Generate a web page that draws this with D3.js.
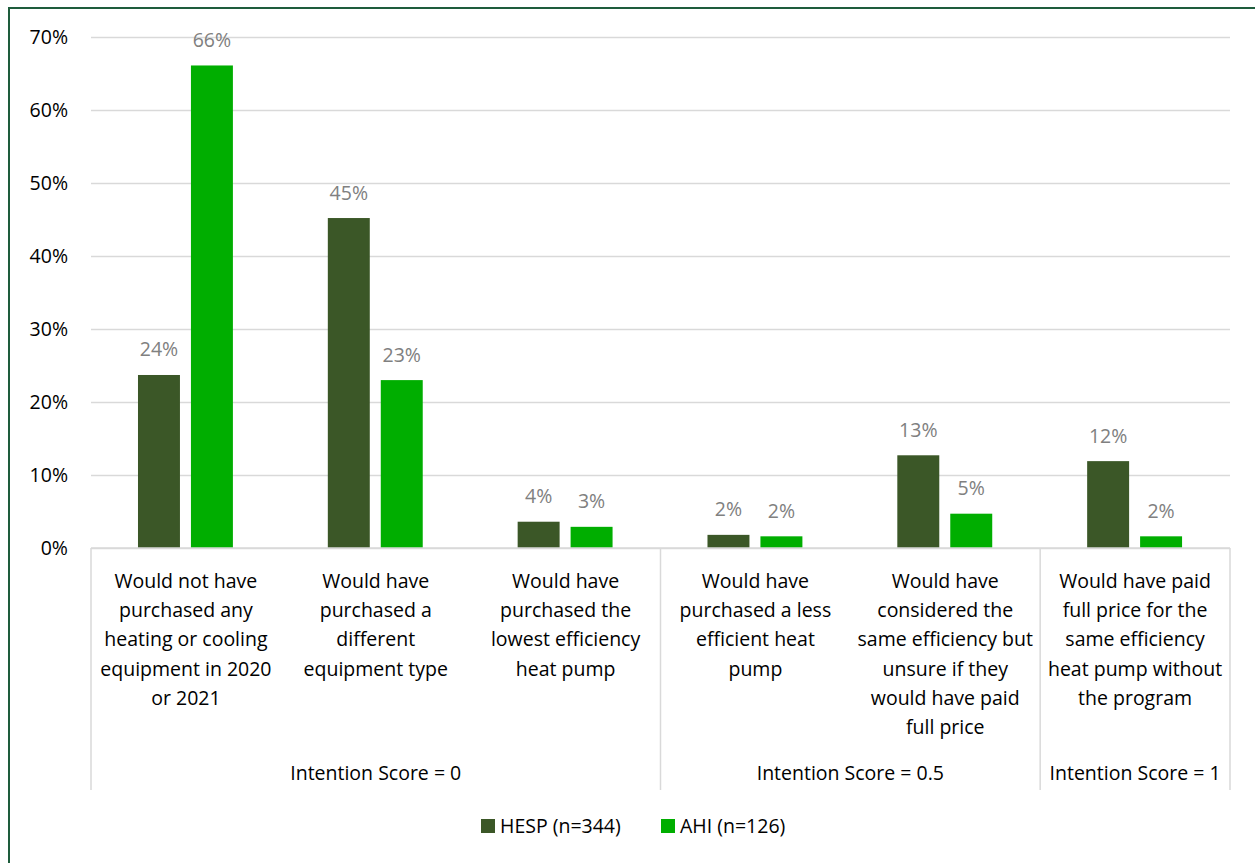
<!DOCTYPE html>
<html>
<head>
<meta charset="utf-8">
<script src="https://cdn.jsdelivr.net/npm/d3@7/dist/d3.min.js"></script>
<style>
  html, body { margin: 0; padding: 0; background: #fff; }
  svg { display: block; font-family: "Open Sans", "Liberation Sans", sans-serif; }
</style>
</head>
<body>
<svg id="chart" width="1255" height="863"></svg>
<script>
// Category labels, one array of wrapped lines per category
const categories = [
  ["Would not have", "purchased any", "heating or cooling", "equipment in 2020", "or 2021"],
  ["Would have", "purchased a", "different", "equipment type"],
  ["Would have", "purchased the", "lowest efficiency", "heat pump"],
  ["Would have", "purchased a less", "efficient heat", "pump"],
  ["Would have", "considered the", "same efficiency but", "unsure if they", "would have paid", "full price"],
  ["Would have paid", "full price for the", "same efficiency", "heat pump without", "the program"]
];

const seriesNames = ["HESP (n=344)", "AHI (n=126)"];
const seriesColors = ["#3b5727", "#00ae00"];

// Share of respondents per category
const hespValues = [0.237, 0.452, 0.036, 0.018, 0.127, 0.119];
const ahiValues  = [0.661, 0.230, 0.029, 0.016, 0.047, 0.016];

// Intention score groups spanning consecutive categories
const groupLabels = ["Intention Score = 0", "Intention Score = 0.5", "Intention Score = 1"];
const groupSizes = [3, 2, 1];

const yTicks = [0, 0.1, 0.2, 0.3, 0.4, 0.5, 0.6, 0.7];

const svg = d3.select("#chart");

// Outer frame
svg.append("rect")
  .attr("x", 9).attr("y", 8)
  .attr("width", 1300).attr("height", 900)
  .attr("fill", "none")
  .attr("stroke", "#1e5c3c")
  .attr("stroke-width", 2);

const plotLeft = 91, plotRight = 1230, plotTop = 37, plotBottom = 548;

const x0 = d3.scaleBand()
  .domain(d3.range(categories.length))
  .range([plotLeft, plotRight])
  .paddingInner(0).paddingOuter(0);

const bw = x0.bandwidth();
const x1 = d3.scaleBand()
  .domain(d3.range(seriesNames.length))
  .range([bw * 0.2475, bw * 0.7475])
  .paddingInner(0.2075).paddingOuter(0);

const y = d3.scaleLinear().domain([0, 0.7]).range([plotBottom, plotTop]);

// Gridlines and y axis labels
const yAxis = d3.axisLeft(y)
  .tickValues(yTicks)
  .tickFormat(d3.format(".0%"))
  .tickSize(-(plotRight - plotLeft))
  .tickPadding(23);

const gy = svg.append("g")
  .attr("transform", `translate(${plotLeft},0)`)
  .call(yAxis);
gy.select(".domain").remove();
gy.selectAll(".tick line").attr("stroke", "#d9d9d9").attr("stroke-width", 1.3);
gy.selectAll(".tick text")
  .attr("fill", "#000")
  .style("font-size", "19.5px")
  .style("font-family", "'Open Sans', sans-serif");

// Bars
const series = [hespValues, ahiValues];
series.forEach((vals, si) => {
  const g = svg.append("g");
  g.selectAll("rect")
    .data(vals)
    .join("rect")
    .attr("x", (d, i) => x0(i) + x1(si))
    .attr("y", d => y(d))
    .attr("width", x1.bandwidth())
    .attr("height", d => y(0) - y(d))
    .attr("fill", seriesColors[si]);

  g.selectAll("text")
    .data(vals)
    .join("text")
    .attr("x", (d, i) => x0(i) + x1(si) + x1.bandwidth() / 2)
    .attr("y", d => y(d) - 18.5)
    .attr("text-anchor", "middle")
    .attr("fill", "#808080")
    .style("font-size", "19.5px")
    .text(d => d3.format(".0%")(d));
});

// Category axis line
svg.append("line")
  .attr("x1", plotLeft).attr("x2", plotRight)
  .attr("y1", plotBottom).attr("y2", plotBottom)
  .attr("stroke", "#d9d9d9").attr("stroke-width", 1.5);

// Group separators
let boundaries = [0];
groupSizes.forEach(s => boundaries.push(boundaries[boundaries.length - 1] + s));
boundaries.forEach(b => {
  const xx = b < categories.length ? x0(b) : plotRight;
  svg.append("line")
    .attr("x1", xx).attr("x2", xx)
    .attr("y1", plotBottom).attr("y2", 790)
    .attr("stroke", "#d9d9d9").attr("stroke-width", 1.5);
});

// Category labels
categories.forEach((lines, i) => {
  const t = svg.append("text")
    .attr("text-anchor", "middle")
    .attr("fill", "#000")
    .style("font-size", "19.5px");
  lines.forEach((ln, j) => {
    t.append("tspan")
      .attr("x", x0(i) + bw / 2)
      .attr("y", 588 + j * 29.2)
      .text(ln);
  });
});

// Group labels
groupLabels.forEach((lab, gi) => {
  const a = boundaries[gi], b = boundaries[gi + 1];
  const xa = x0(a);
  const xb = b < categories.length ? x0(b) : plotRight;
  svg.append("text")
    .attr("x", (xa + xb) / 2)
    .attr("y", 780)
    .attr("text-anchor", "middle")
    .attr("fill", "#000")
    .style("font-size", "19.5px")
    .text(lab);
});

// Legend
const legendX = [481, 661];
seriesNames.forEach((name, si) => {
  svg.append("rect")
    .attr("x", legendX[si]).attr("y", 819)
    .attr("width", 14).attr("height", 14)
    .attr("fill", seriesColors[si]);
  svg.append("text")
    .attr("x", legendX[si] + 19)
    .attr("y", 833)
    .attr("fill", "#000")
    .style("font-size", "19.5px")
    .text(name);
});
</script>
</body>
</html>
